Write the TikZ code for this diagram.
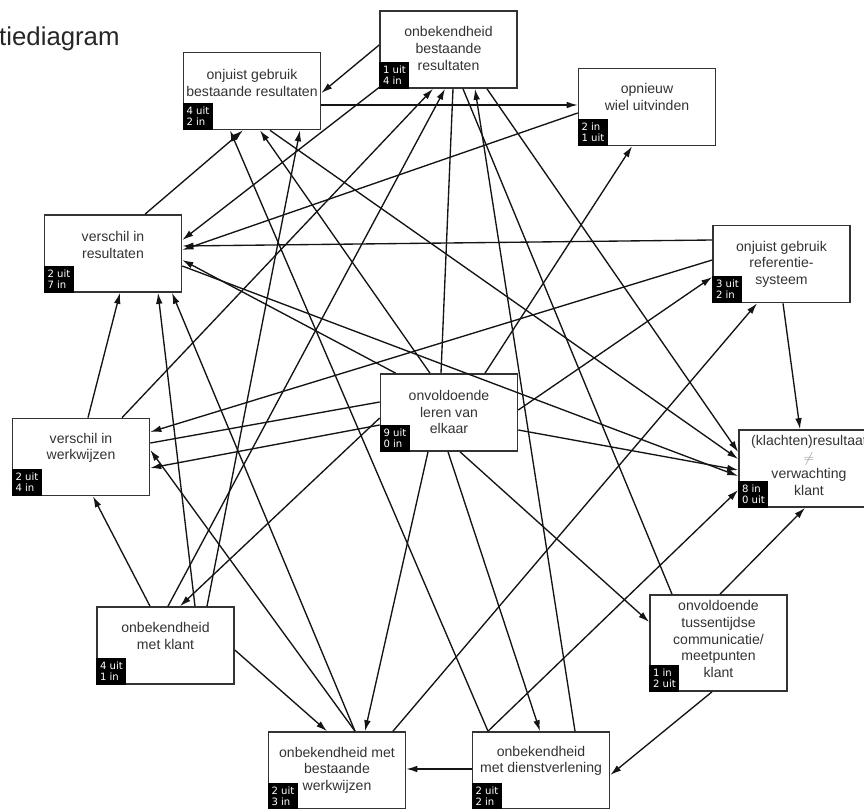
\documentclass[tikz,border=0pt]{standalone}
\usepackage{fontspec}
\setmainfont{Liberation Sans}
\newfontfamily\badgefont{DejaVu Sans}
\usetikzlibrary{arrows.meta,calc}
\begin{document}
\begin{tikzpicture}[x=0.03cm,y=-0.03cm,
  box/.style={draw=black!80, line width=1.4pt, fill=white, minimum width=4.11cm, minimum height=2.31cm, inner sep=0pt},
  lbl/.style={align=center, font=\fontsize{12}{14.2}\selectfont, text=black!80, inner sep=0pt},
  badge/.style={fill=black, text=white, anchor=south west, minimum width=0.9cm, minimum height=0.81cm, inner sep=1pt, align=left, font=\badgefont\fontsize{8.6}{9.4}\selectfont},
  arr/.style={-{Latex[length=0.33cm,width=0.2cm]}, line width=1.15pt, black!92},
  ln/.style={line width=1.15pt, black!92}]
\clip (0,0) rectangle (864,808);
\node[anchor=base west, font=\fontsize{22}{24}\selectfont, text=black!85, inner sep=0pt] (title) at (-1,45) {tiediagram};
% boxes
\node[box] (obr) at (448.5,49.5) {};
\node[box] (ogbr) at (252,91) {};
\node[box] (owu) at (647,107) {};
\node[box] (vir) at (113,253.5) {};
\node[box] (ogrs) at (781.5,264) {};
\node[box] (olve) at (449,412.5) {};
\node[box] (viw) at (81,457) {};
\node[box, minimum width=4.2cm] (krv) at (809,468.5) {};
\node[box] (omk) at (165.5,645.5) {};
\node[box, minimum height=2.88cm] (otc) at (718.5,643) {};
\node[box] (ombw) at (337,770.5) {};
\node[box] (omd) at (541,770.5) {};
% texts
\node[lbl] (obr-t) at (448.5,48.5) {onbekendheid\\bestaande\\resultaten};
\node[lbl] (ogbr-t) at (252,83) {onjuist gebruik\\bestaande resultaten};
\node[lbl] (owu-t) at (647,97) {opnieuw\\wiel uitvinden};
\node[lbl] (vir-t) at (113,245) {verschil in\\resultaten};
\node[lbl] (ogrs-t) at (781.5,264) {onjuist gebruik\\referentie-\\systeem};
\node[lbl] (olve-t) at (449,412) {onvoldoende\\leren van\\elkaar};
\node[lbl] (viw-t) at (81,448) {verschil in\\werkwijzen};
\node[lbl] (krv-t) at (809,465.5) {(klachten)resultaat\\{\color{black!45}$\neq$}\\verwachting\\klant};
\node[lbl] (omk-t) at (165.5,636) {onbekendheid\\met klant};
\node[lbl] (otc-t) at (718.5,639) {onvoldoende\\tussentijdse\\communicatie/\\meetpunten\\klant};
\node[lbl] (ombw-t) at (337,770) {onbekendheid met\\bestaande\\werkwijzen};
\node[lbl] (omd-t) at (541,761) {onbekendheid\\met dienstverlening};
% badges
\node[badge] (obr-b) at (obr.south west) {1 uit\\4 in};
\node[badge] (ogbr-b) at (ogbr.south west) {4 uit\\2 in};
\node[badge] (owu-b) at (owu.south west) {2 in\\1 uit};
\node[badge] (vir-b) at (vir.south west) {2 uit\\7 in};
\node[badge] (ogrs-b) at (ogrs.south west) {3 uit\\2 in};
\node[badge] (olve-b) at (olve.south west) {9 uit\\0 in};
\node[badge] (viw-b) at (viw.south west) {2 uit\\4 in};
\node[badge] (krv-b) at (krv.south west) {8 in\\0 uit};
\node[badge] (omk-b) at (omk.south west) {4 uit\\1 in};
\node[badge] (otc-b) at (otc.south west) {1 in\\2 uit};
\node[badge] (ombw-b) at (ombw.south west) {2 uit\\3 in};
\node[badge] (omd-b) at (omd.south west) {2 uit\\2 in};
% connectors
\draw[arr] ($(obr.west)+(0,-4.5)$) -- ($(ogbr.east)+(0,2)$);
\draw[arr] ($(ogbr.east)+(0,14)$) -- ($(owu.west)+(0,-2)$);
\draw[arr] ($(owu.west)+(0,6)$) -- ($(vir.east)+(0,-3.5)$);
\draw[arr] ($(obr.south west)+(2,-3)$) -- ($(vir.east)+(0,-13.5)$);
\draw[arr] ($(ogrs.west)+(0,-24)$) -- ($(vir.east)+(0,-7.5)$);
\draw[arr] ($(olve.north west)+(16,0)$) -- ($(vir.east)+(0,6.5)$);
\draw[arr] ($(vir.north)+(32,0)$) -- ($(ogbr.south)+(-9,0)$);
\draw[arr] ($(viw.north)+(7,0)$) -- ($(vir.south)+(7,0)$);
\draw[arr] ($(omk.north)+(-15.5,0)$) -- ($(viw.south)+(12,0)$);
\draw[arr] ($(omk.north)+(2.5,0)$) -- ($(obr.south)+(-3.5,0)$);
\draw[arr] ($(omk.north)+(29.5,0)$) -- ($(vir.south)+(45,0)$);
\draw[arr] ($(omk.north)+(41.5,0)$) -- ($(ogbr.south)+(48,0)$);
\draw[arr] ($(omk.east)+(0,4.5)$) -- ($(ombw.north)+(-10,0)$);
\draw[arr] ($(olve.west)+(0,5.5)$) -- ($(omk.north)+(14.5,0)$);
\draw[arr] ($(olve.south)+(-21,0)$) -- ($(ombw.north)+(28,0)$);
\draw[arr] ($(olve.south)+(-1,0)$) -- ($(omd.north)+(-1,0)$);
\draw[arr] ($(olve.south)+(11,0)$) -- ($(otc.west)+(0,-21)$);
\draw[arr] ($(olve.north)+(36,0)$) -- ($(owu.south)+(-15,0)$);
\draw[arr] ($(olve.east)+(0,-2.5)$) -- ($(ogrs.west)+(0,13)$);
\draw[arr] ($(olve.east)+(0,17.5)$) -- ($(krv.west)+(0,1.5)$);
\draw[arr] ($(ogrs.south)+(1.5,0)$) -- ($(krv.north)+(-9,0)$);
\draw[arr] ($(otc.north)+(1.5,0)$) -- ($(krv.south)+(-4,0)$);
\draw[arr] ($(otc.south)+(-6.5,0)$) -- ($(omd.east)+(0,4.5)$);
\draw[arr] ($(omd.west)+(0,-1.5)$) -- ($(ombw.east)+(0,-1.5)$);
\draw[arr] ($(ombw.north)+(18,0)$) -- ($(viw.east)+(0,-7)$);
\draw[arr] ($(ombw.north)+(18,0)$) -- ($(vir.south)+(59,0)$);
\draw[arr] ($(ombw.north)+(56,0)$) -- ($(ogrs.south)+(-24.5,0)$);
\draw[arr] ($(ogbr.south)+(18,0)$) -- ($(krv.west)+(0,-9.5)$);
\draw[arr] ($(ogrs.west)+(0,-4)$) -- ($(viw.east)+(0,-25)$);
\draw[arr] ($(olve.west)+(0,12.5)$) -- ($(viw.east)+(0,11)$);
\draw[ln] ($(olve.west)+(0,-10.5)$) -- ($(viw.east)+(0,-14)$);
\draw[arr] ($(vir.east)+(0,12.5)$) -- ($(krv.west)+(0,7.5)$);
\draw[arr] ($(olve.north)+(-19,0)$) -- ($(ogbr.south)+(8,0)$);
\draw[arr] ($(omd.north)+(-53,0)$) -- ($(ogbr.south)+(-22,0)$);
\draw[arr] ($(omd.north)+(-53,0)$) -- ($(krv.west)+(0,21.5)$);
\draw[arr] ($(viw.north)+(41,0)$) -- ($(obr.south)+(-15.5,0)$);
\draw[ln] ($(olve.north)+(-8,0)$) -- ($(obr.south)+(4.5,0)$);
\draw[arr] ($(omd.north)+(34,0)$) -- ($(obr.south)+(26.5,0)$);
\draw[ln] ($(otc.north)+(-46.5,0)$) -- ($(obr.south)+(14.5,0)$);
\draw[arr] ($(obr.south)+(38.5,0)$) -- ($(krv.west)+(0,-16.5)$);
\end{tikzpicture}
\end{document}
